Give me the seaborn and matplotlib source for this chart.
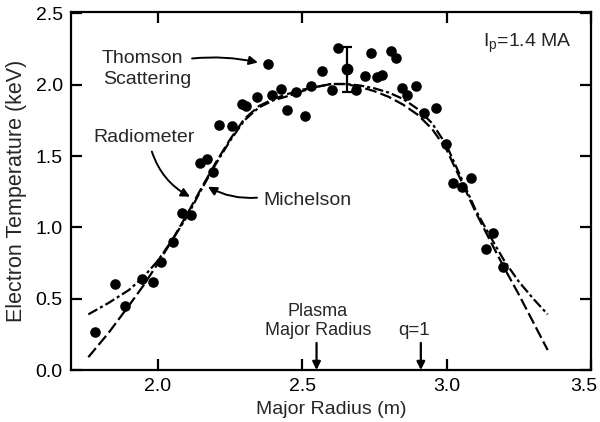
import matplotlib
matplotlib.use("Agg")
import matplotlib.pyplot as plt
import matplotlib.transforms as mtransforms
import seaborn as sns
import numpy as np
import pandas as pd

# ---- data ----
thomson_r = [2.383, 2.624, 2.569, 2.603, 2.686, 2.531, 2.479, 2.428, 2.397, 2.345,
             2.293, 2.307, 2.448, 2.510, 2.214, 2.259, 2.145, 2.172, 2.190, 2.738,
             2.807, 2.824, 2.717, 2.759, 2.776, 2.845, 2.893, 2.862, 2.921, 2.962,
             2.997, 3.024, 3.052, 3.086, 3.162, 3.138, 3.197, 2.086, 2.117, 2.052,
             2.010, 1.945, 1.983, 1.852, 1.886, 1.783]
thomson_te = [2.142, 2.261, 2.093, 1.966, 1.966, 1.994, 1.952, 1.973, 1.931, 1.917,
              1.868, 1.854, 1.826, 1.784, 1.720, 1.713, 1.454, 1.482, 1.390, 2.219,
              2.233, 2.184, 2.058, 2.051, 2.065, 1.980, 1.994, 1.931, 1.805, 1.840,
              1.587, 1.313, 1.285, 1.348, 0.962, 0.850, 0.723, 1.103, 1.088, 0.899,
              0.758, 0.639, 0.618, 0.604, 0.449, 0.267]

errbar_r = [2.655]
errbar_te = [2.107]
errbar_err = [0.155]

curve_r = [1.76, 1.83, 1.90, 1.95, 2.00, 2.05, 2.10, 2.15, 2.20, 2.25, 2.30, 2.35,
           2.40, 2.45, 2.50, 2.55, 2.60, 2.65, 2.70, 2.75, 2.80, 2.85, 2.90, 2.95,
           3.00, 3.05, 3.10, 3.15, 3.20, 3.25, 3.30, 3.35]
radiometer_te = [0.39, 0.47, 0.56, 0.65, 0.765, 0.91, 1.07, 1.26, 1.44, 1.605, 1.75, 1.84,
                 1.89, 1.92, 1.955, 1.985, 2.005, 2.005, 1.995, 1.975, 1.945, 1.90, 1.83, 1.73,
                 1.575, 1.35, 1.125, 0.94, 0.765, 0.62, 0.50, 0.39]
michelson_te = [0.09, 0.26, 0.45, 0.59, 0.745, 0.91, 1.085, 1.27, 1.45, 1.615, 1.76, 1.85,
                1.90, 1.935, 1.965, 1.985, 2.005, 2.005, 1.985, 1.955, 1.915, 1.86, 1.79, 1.69,
                1.545, 1.33, 1.11, 0.91, 0.715, 0.53, 0.335, 0.14]

x_ticks = [2.0, 2.5, 3.0, 3.5]
y_ticks = [0.0, 0.5, 1.0, 1.5, 2.0, 2.5]

# ---- style ----
sns.set_style("ticks")
plt.rcParams['font.family'] = ['Liberation Sans', 'DejaVu Sans']
plt.rcParams['mathtext.default'] = 'regular'
plt.rcParams['lines.scale_dashes'] = False

FS = 14
fig = plt.figure(figsize=(6.0, 4.22), dpi=100)
ax = fig.add_axes([0.1183, 0.1232, 0.8667, 0.8484])

pts = pd.DataFrame({"r": thomson_r, "te": thomson_te})
sns.scatterplot(data=pts, x="r", y="te", ax=ax, color="black", s=58,
                edgecolor="black", linewidth=0, zorder=4)

ax.errorbar(errbar_r, errbar_te, yerr=errbar_err, fmt='o', color='black',
            ms=7.5, capsize=3.5, elinewidth=1.6, capthick=1.6, zorder=4)

curves = pd.DataFrame({"r": curve_r, "rad": radiometer_te, "mich": michelson_te})
sns.lineplot(data=curves, x="r", y="rad", ax=ax, color="black", linewidth=1.6, sort=False)
ax.lines[-1].set_dashes([7.5, 2.2, 2.2, 2.2])
sns.lineplot(data=curves, x="r", y="mich", ax=ax, color="black", linewidth=1.6, sort=False)
ax.lines[-1].set_dashes([8.5, 3.0])

ax.set_xlim(1.7, 3.5)
ax.set_ylim(0.0, 2.51)
ax.set_xticks(x_ticks)
ax.set_yticks(y_ticks)
ax.set_xticklabels([f"{v:.1f}" for v in x_ticks])
ax.set_yticklabels([f"{v:.1f}" for v in y_ticks])
ax.tick_params(direction='in', length=8, width=1.6, top=True, right=True,
               labelsize=FS, pad=6, colors='black')
for sp in ax.spines.values():
    sp.set_linewidth(1.6)
    sp.set_color('black')

# shift the last x tick label slightly left so it stays inside the figure
last = ax.get_xticklabels()[-1]
last.set_transform(last.get_transform() +
                   mtransforms.ScaledTranslation(-7 / 100, 0, fig.dpi_scale_trans))

ax.set_xlabel("Major Radius (m)", fontsize=FS, labelpad=4)
ax.set_ylabel("Electron Temperature (keV)", fontsize=15.5, labelpad=6)

# ---- annotations ----
ax.text(1.807, 2.149, "Thomson", fontsize=FS, ha='left', va='baseline')
ax.text(1.810, 2.008, "Scattering", fontsize=FS, ha='left', va='baseline')
ax.annotate("", xy=(2.347, 2.156), xytext=(2.119, 2.184),
            arrowprops=dict(arrowstyle='-|>', color='black', lw=1.4,
                            mutation_scale=13, shrinkA=0, shrinkB=0,
                            connectionstyle='arc3,rad=-0.08'))

ax.text(1.776, 1.601, "Radiometer", fontsize=FS, ha='left', va='baseline')
ax.annotate("", xy=(2.112, 1.215), xytext=(1.98, 1.531),
            arrowprops=dict(arrowstyle='-|>', color='black', lw=1.4,
                            mutation_scale=13, shrinkA=0, shrinkB=0,
                            connectionstyle='arc3,rad=0.2'))

ax.text(2.365, 1.159, "Michelson", fontsize=FS, ha='left', va='baseline')
ax.annotate("", xy=(2.174, 1.285), xytext=(2.344, 1.208),
            arrowprops=dict(arrowstyle='-|>', color='black', lw=1.4,
                            mutation_scale=13, shrinkA=0, shrinkB=0,
                            connectionstyle='arc3,rad=-0.15'))

ax.text(3.126, 2.268, r"I$_{p}$=1.4 MA", fontsize=FS, ha='left', va='baseline')

ax.text(2.555, 0.382, "Plasma", fontsize=13, ha='center', va='baseline')
ax.text(2.555, 0.246, "Major Radius", fontsize=13, ha='center', va='baseline')
ax.annotate("", xy=(2.55, 0.0), xytext=(2.55, 0.19),
            arrowprops=dict(arrowstyle='-|>', color='black', lw=1.6,
                            mutation_scale=12, shrinkA=0, shrinkB=0))
ax.text(2.887, 0.246, "q=1", fontsize=13.5, ha='center', va='baseline')
ax.annotate("", xy=(2.911, 0.0), xytext=(2.911, 0.19),
            arrowprops=dict(arrowstyle='-|>', color='black', lw=1.6,
                            mutation_scale=12, shrinkA=0, shrinkB=0))

fig.savefig("out.png", dpi=100)
